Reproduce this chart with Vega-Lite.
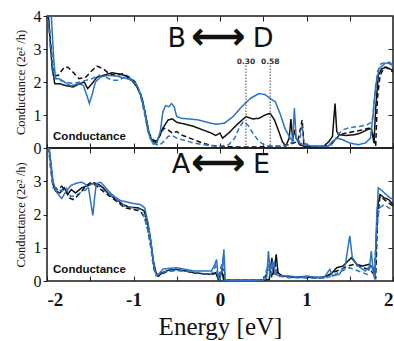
{
"$schema": "https://vega.github.io/schema/vega-lite/v6.json",
"padding": {"left": 13, "top": 7, "right": 0, "bottom": 0},
"background": "white",
"spacing": 0,
"bounds": "flush",
"config": {
  "view": {"stroke": "#1a1a1a", "strokeWidth": 1.5},
  "axis": {"labelFont": "Liberation Serif", "titleFont": "Liberation Serif", "labelColor": "#111", "titleColor": "#111", "tickColor": "#222", "domain": false, "grid": false}
},
"datasets": {
"top": [
{"E":-2.0,"G":4.6,"s":"bs"},{"E":-1.97,"G":3.5,"s":"bs"},{"E":-1.94,"G":2.4,"s":"bs"},{"E":-1.91,"G":1.95,"s":"bs"},{"E":-1.85,"G":1.95,"s":"bs"},{"E":-1.8,"G":1.9,"s":"bs"},{"E":-1.7,"G":1.85,"s":"bs"},{"E":-1.62,"G":1.95,"s":"bs"},{"E":-1.57,"G":2.0,"s":"bs"},{"E":-1.53,"G":1.8,"s":"bs"},{"E":-1.48,"G":1.95,"s":"bs"},{"E":-1.42,"G":2.15,"s":"bs"},{"E":-1.35,"G":2.2,"s":"bs"},{"E":-1.25,"G":2.28,"s":"bs"},{"E":-1.18,"G":2.25,"s":"bs"},{"E":-1.1,"G":2.2,"s":"bs"},{"E":-1.02,"G":2.05,"s":"bs"},{"E":-0.96,"G":1.85,"s":"bs"},{"E":-0.9,"G":1.5,"s":"bs"},{"E":-0.86,"G":1.0,"s":"bs"},{"E":-0.82,"G":0.45,"s":"bs"},{"E":-0.79,"G":0.25,"s":"bs"},{"E":-0.75,"G":0.15,"s":"bs"},{"E":-0.71,"G":0.3,"s":"bs"},{"E":-0.66,"G":0.6,"s":"bs"},{"E":-0.6,"G":0.85,"s":"bs"},{"E":-0.55,"G":0.88,"s":"bs"},{"E":-0.5,"G":0.78,"s":"bs"},{"E":-0.4,"G":0.72,"s":"bs"},{"E":-0.3,"G":0.65,"s":"bs"},{"E":-0.2,"G":0.55,"s":"bs"},{"E":-0.1,"G":0.45,"s":"bs"},{"E":-0.05,"G":0.38,"s":"bs"},{"E":0.0,"G":0.45,"s":"bs"},{"E":0.03,"G":0.3,"s":"bs"},{"E":0.1,"G":0.45,"s":"bs"},{"E":0.2,"G":0.72,"s":"bs"},{"E":0.3,"G":0.95,"s":"bs"},{"E":0.38,"G":0.88,"s":"bs"},{"E":0.45,"G":0.9,"s":"bs"},{"E":0.52,"G":1.0,"s":"bs"},{"E":0.58,"G":1.05,"s":"bs"},{"E":0.63,"G":0.85,"s":"bs"},{"E":0.68,"G":0.5,"s":"bs"},{"E":0.72,"G":0.2,"s":"bs"},{"E":0.76,"G":0.05,"s":"bs"},{"E":0.8,"G":0.3,"s":"bs"},{"E":0.82,"G":0.88,"s":"bs"},{"E":0.84,"G":0.25,"s":"bs"},{"E":0.86,"G":0.55,"s":"bs"},{"E":0.88,"G":0.3,"s":"bs"},{"E":0.92,"G":0.1,"s":"bs"},{"E":0.98,"G":0.05,"s":"bs"},{"E":1.1,"G":0.03,"s":"bs"},{"E":1.2,"G":0.05,"s":"bs"},{"E":1.26,"G":0.2,"s":"bs"},{"E":1.3,"G":0.35,"s":"bs"},{"E":1.33,"G":1.35,"s":"bs"},{"E":1.35,"G":0.5,"s":"bs"},{"E":1.38,"G":0.4,"s":"bs"},{"E":1.45,"G":0.38,"s":"bs"},{"E":1.55,"G":0.4,"s":"bs"},{"E":1.62,"G":0.45,"s":"bs"},{"E":1.7,"G":0.55,"s":"bs"},{"E":1.75,"G":0.6,"s":"bs"},{"E":1.78,"G":0.15,"s":"bs"},{"E":1.8,"G":1.2,"s":"bs"},{"E":1.83,"G":2.2,"s":"bs"},{"E":1.87,"G":2.4,"s":"bs"},{"E":1.92,"G":2.45,"s":"bs"},{"E":2.0,"G":2.35,"s":"bs"},

{"E":-2.0,"G":4.6,"s":"bd"},{"E":-1.96,"G":3.2,"s":"bd"},{"E":-1.92,"G":2.2,"s":"bd"},{"E":-1.87,"G":2.2,"s":"bd"},{"E":-1.8,"G":2.45,"s":"bd"},{"E":-1.76,"G":2.45,"s":"bd"},{"E":-1.7,"G":2.3,"s":"bd"},{"E":-1.63,"G":2.1,"s":"bd"},{"E":-1.55,"G":2.15,"s":"bd"},{"E":-1.48,"G":2.35,"s":"bd"},{"E":-1.42,"G":2.48,"s":"bd"},{"E":-1.35,"G":2.4,"s":"bd"},{"E":-1.28,"G":2.25,"s":"bd"},{"E":-1.2,"G":2.2,"s":"bd"},{"E":-1.12,"G":2.25,"s":"bd"},{"E":-1.05,"G":2.15,"s":"bd"},{"E":-0.98,"G":2.0,"s":"bd"},{"E":-0.92,"G":1.65,"s":"bd"},{"E":-0.87,"G":1.1,"s":"bd"},{"E":-0.83,"G":0.5,"s":"bd"},{"E":-0.79,"G":0.3,"s":"bd"},{"E":-0.75,"G":0.2,"s":"bd"},{"E":-0.7,"G":0.35,"s":"bd"},{"E":-0.65,"G":0.6,"s":"bd"},{"E":-0.6,"G":0.55,"s":"bd"},{"E":-0.55,"G":0.45,"s":"bd"},{"E":-0.5,"G":0.5,"s":"bd"},{"E":-0.45,"G":0.4,"s":"bd"},{"E":-0.35,"G":0.3,"s":"bd"},{"E":-0.2,"G":0.15,"s":"bd"},{"E":-0.1,"G":0.08,"s":"bd"},{"E":0.0,"G":0.05,"s":"bd"},{"E":0.2,"G":0.03,"s":"bd"},{"E":0.4,"G":0.03,"s":"bd"},{"E":0.6,"G":0.05,"s":"bd"},{"E":0.7,"G":0.05,"s":"bd"},{"E":0.8,"G":0.1,"s":"bd"},{"E":0.9,"G":0.2,"s":"bd"},{"E":0.95,"G":0.85,"s":"bd"},{"E":0.97,"G":0.1,"s":"bd"},{"E":1.05,"G":0.05,"s":"bd"},{"E":1.2,"G":0.05,"s":"bd"},{"E":1.3,"G":0.15,"s":"bd"},{"E":1.38,"G":0.4,"s":"bd"},{"E":1.45,"G":0.45,"s":"bd"},{"E":1.55,"G":0.5,"s":"bd"},{"E":1.65,"G":0.55,"s":"bd"},{"E":1.72,"G":0.6,"s":"bd"},{"E":1.77,"G":0.4,"s":"bd"},{"E":1.8,"G":0.05,"s":"bd"},{"E":1.82,"G":1.5,"s":"bd"},{"E":1.85,"G":2.2,"s":"bd"},{"E":1.9,"G":2.45,"s":"bd"},{"E":1.95,"G":2.4,"s":"bd"},{"E":2.0,"G":2.3,"s":"bd"},

{"E":-2.0,"G":4.6,"s":"ud"},{"E":-1.96,"G":3.0,"s":"ud"},{"E":-1.92,"G":2.15,"s":"ud"},{"E":-1.85,"G":2.05,"s":"ud"},{"E":-1.78,"G":2.0,"s":"ud"},{"E":-1.7,"G":1.95,"s":"ud"},{"E":-1.62,"G":2.0,"s":"ud"},{"E":-1.55,"G":2.05,"s":"ud"},{"E":-1.48,"G":2.1,"s":"ud"},{"E":-1.4,"G":2.2,"s":"ud"},{"E":-1.32,"G":2.15,"s":"ud"},{"E":-1.25,"G":2.05,"s":"ud"},{"E":-1.18,"G":2.05,"s":"ud"},{"E":-1.1,"G":2.15,"s":"ud"},{"E":-1.03,"G":2.1,"s":"ud"},{"E":-0.97,"G":1.95,"s":"ud"},{"E":-0.92,"G":1.6,"s":"ud"},{"E":-0.87,"G":1.0,"s":"ud"},{"E":-0.83,"G":0.45,"s":"ud"},{"E":-0.79,"G":0.25,"s":"ud"},{"E":-0.75,"G":0.12,"s":"ud"},{"E":-0.7,"G":0.08,"s":"ud"},{"E":-0.65,"G":0.2,"s":"ud"},{"E":-0.6,"G":0.35,"s":"ud"},{"E":-0.55,"G":0.38,"s":"ud"},{"E":-0.5,"G":0.3,"s":"ud"},{"E":-0.4,"G":0.22,"s":"ud"},{"E":-0.3,"G":0.15,"s":"ud"},{"E":-0.2,"G":0.1,"s":"ud"},{"E":-0.1,"G":0.07,"s":"ud"},{"E":0.0,"G":0.05,"s":"ud"},{"E":0.1,"G":0.1,"s":"ud"},{"E":0.17,"G":0.3,"s":"ud"},{"E":0.22,"G":0.6,"s":"ud"},{"E":0.27,"G":0.8,"s":"ud"},{"E":0.32,"G":0.7,"s":"ud"},{"E":0.38,"G":0.45,"s":"ud"},{"E":0.45,"G":0.2,"s":"ud"},{"E":0.52,"G":0.08,"s":"ud"},{"E":0.6,"G":0.05,"s":"ud"},{"E":0.7,"G":0.05,"s":"ud"},{"E":0.8,"G":0.1,"s":"ud"},{"E":0.88,"G":0.3,"s":"ud"},{"E":0.92,"G":0.2,"s":"ud"},{"E":0.95,"G":0.7,"s":"ud"},{"E":0.97,"G":0.15,"s":"ud"},{"E":1.05,"G":0.05,"s":"ud"},{"E":1.2,"G":0.05,"s":"ud"},{"E":1.3,"G":0.1,"s":"ud"},{"E":1.36,"G":0.4,"s":"ud"},{"E":1.42,"G":0.55,"s":"ud"},{"E":1.5,"G":0.62,"s":"ud"},{"E":1.6,"G":0.65,"s":"ud"},{"E":1.7,"G":0.7,"s":"ud"},{"E":1.76,"G":0.8,"s":"ud"},{"E":1.79,"G":1.6,"s":"ud"},{"E":1.82,"G":2.3,"s":"ud"},{"E":1.86,"G":2.55,"s":"ud"},{"E":1.92,"G":2.6,"s":"ud"},{"E":2.0,"G":2.5,"s":"ud"},

{"E":-2.0,"G":5.0,"s":"us"},{"E":-1.95,"G":4.0,"s":"us"},{"E":-1.92,"G":2.6,"s":"us"},{"E":-1.9,"G":2.1,"s":"us"},{"E":-1.86,"G":2.1,"s":"us"},{"E":-1.8,"G":2.0,"s":"us"},{"E":-1.72,"G":1.88,"s":"us"},{"E":-1.64,"G":1.95,"s":"us"},{"E":-1.58,"G":1.9,"s":"us"},{"E":-1.54,"G":1.6,"s":"us"},{"E":-1.51,"G":1.35,"s":"us"},{"E":-1.48,"G":1.6,"s":"us"},{"E":-1.44,"G":2.0,"s":"us"},{"E":-1.38,"G":2.15,"s":"us"},{"E":-1.3,"G":2.2,"s":"us"},{"E":-1.2,"G":2.18,"s":"us"},{"E":-1.1,"G":2.12,"s":"us"},{"E":-1.02,"G":2.05,"s":"us"},{"E":-0.96,"G":1.9,"s":"us"},{"E":-0.92,"G":1.65,"s":"us"},{"E":-0.88,"G":1.25,"s":"us"},{"E":-0.84,"G":0.7,"s":"us"},{"E":-0.81,"G":0.3,"s":"us"},{"E":-0.77,"G":0.12,"s":"us"},{"E":-0.73,"G":0.15,"s":"us"},{"E":-0.69,"G":0.5,"s":"us"},{"E":-0.66,"G":1.1,"s":"us"},{"E":-0.63,"G":1.28,"s":"us"},{"E":-0.59,"G":1.25,"s":"us"},{"E":-0.56,"G":1.35,"s":"us"},{"E":-0.53,"G":1.25,"s":"us"},{"E":-0.5,"G":0.95,"s":"us"},{"E":-0.45,"G":0.9,"s":"us"},{"E":-0.35,"G":0.88,"s":"us"},{"E":-0.25,"G":0.85,"s":"us"},{"E":-0.15,"G":0.78,"s":"us"},{"E":-0.05,"G":0.72,"s":"us"},{"E":0.05,"G":0.75,"s":"us"},{"E":0.15,"G":0.95,"s":"us"},{"E":0.25,"G":1.25,"s":"us"},{"E":0.35,"G":1.5,"s":"us"},{"E":0.45,"G":1.65,"s":"us"},{"E":0.52,"G":1.62,"s":"us"},{"E":0.58,"G":1.5,"s":"us"},{"E":0.64,"G":1.4,"s":"us"},{"E":0.7,"G":1.0,"s":"us"},{"E":0.75,"G":0.6,"s":"us"},{"E":0.8,"G":0.35,"s":"us"},{"E":0.84,"G":0.2,"s":"us"},{"E":0.86,"G":1.2,"s":"us"},{"E":0.88,"G":0.3,"s":"us"},{"E":0.92,"G":0.15,"s":"us"},{"E":1.0,"G":0.08,"s":"us"},{"E":1.1,"G":0.05,"s":"us"},{"E":1.25,"G":0.05,"s":"us"},{"E":1.3,"G":0.2,"s":"us"},{"E":1.35,"G":0.3,"s":"us"},{"E":1.42,"G":0.25,"s":"us"},{"E":1.5,"G":0.15,"s":"us"},{"E":1.6,"G":0.1,"s":"us"},{"E":1.68,"G":0.15,"s":"us"},{"E":1.74,"G":0.3,"s":"us"},{"E":1.77,"G":1.0,"s":"us"},{"E":1.8,"G":1.9,"s":"us"},{"E":1.84,"G":2.4,"s":"us"},{"E":1.9,"G":2.55,"s":"us"},{"E":1.96,"G":2.6,"s":"us"},{"E":2.0,"G":2.5,"s":"us"}
],
"bot": [
{"E":-2.0,"G":4.5,"s":"bs"},{"E":-1.96,"G":3.6,"s":"bs"},{"E":-1.93,"G":2.9,"s":"bs"},{"E":-1.9,"G":2.7,"s":"bs"},{"E":-1.85,"G":2.65,"s":"bs"},{"E":-1.8,"G":2.8,"s":"bs"},{"E":-1.76,"G":2.6,"s":"bs"},{"E":-1.72,"G":2.75,"s":"bs"},{"E":-1.67,"G":2.65,"s":"bs"},{"E":-1.6,"G":2.8,"s":"bs"},{"E":-1.55,"G":2.85,"s":"bs"},{"E":-1.5,"G":2.9,"s":"bs"},{"E":-1.45,"G":2.95,"s":"bs"},{"E":-1.4,"G":2.9,"s":"bs"},{"E":-1.35,"G":2.8,"s":"bs"},{"E":-1.28,"G":2.6,"s":"bs"},{"E":-1.2,"G":2.45,"s":"bs"},{"E":-1.12,"G":2.3,"s":"bs"},{"E":-1.05,"G":2.22,"s":"bs"},{"E":-0.95,"G":2.2,"s":"bs"},{"E":-0.88,"G":2.12,"s":"bs"},{"E":-0.84,"G":1.8,"s":"bs"},{"E":-0.8,"G":1.2,"s":"bs"},{"E":-0.77,"G":0.6,"s":"bs"},{"E":-0.74,"G":0.25,"s":"bs"},{"E":-0.71,"G":0.15,"s":"bs"},{"E":-0.67,"G":0.25,"s":"bs"},{"E":-0.6,"G":0.32,"s":"bs"},{"E":-0.5,"G":0.35,"s":"bs"},{"E":-0.4,"G":0.3,"s":"bs"},{"E":-0.3,"G":0.25,"s":"bs"},{"E":-0.2,"G":0.22,"s":"bs"},{"E":-0.1,"G":0.2,"s":"bs"},{"E":-0.05,"G":0.25,"s":"bs"},{"E":-0.02,"G":0.05,"s":"bs"},{"E":0.02,"G":0.3,"s":"bs"},{"E":0.04,"G":0.05,"s":"bs"},{"E":0.1,"G":0.02,"s":"bs"},{"E":0.3,"G":0.02,"s":"bs"},{"E":0.5,"G":0.02,"s":"bs"},{"E":0.57,"G":0.05,"s":"bs"},{"E":0.6,"G":0.7,"s":"bs"},{"E":0.62,"G":0.2,"s":"bs"},{"E":0.65,"G":0.8,"s":"bs"},{"E":0.67,"G":0.25,"s":"bs"},{"E":0.72,"G":0.15,"s":"bs"},{"E":0.85,"G":0.12,"s":"bs"},{"E":1.0,"G":0.12,"s":"bs"},{"E":1.1,"G":0.1,"s":"bs"},{"E":1.2,"G":0.12,"s":"bs"},{"E":1.28,"G":0.2,"s":"bs"},{"E":1.35,"G":0.4,"s":"bs"},{"E":1.42,"G":0.45,"s":"bs"},{"E":1.48,"G":0.6,"s":"bs"},{"E":1.52,"G":0.7,"s":"bs"},{"E":1.58,"G":0.5,"s":"bs"},{"E":1.65,"G":0.45,"s":"bs"},{"E":1.72,"G":0.5,"s":"bs"},{"E":1.77,"G":0.4,"s":"bs"},{"E":1.79,"G":0.1,"s":"bs"},{"E":1.82,"G":2.2,"s":"bs"},{"E":1.85,"G":2.6,"s":"bs"},{"E":1.9,"G":2.5,"s":"bs"},{"E":1.95,"G":2.45,"s":"bs"},{"E":2.0,"G":2.3,"s":"bs"},

{"E":-2.0,"G":4.5,"s":"bd"},{"E":-1.96,"G":3.5,"s":"bd"},{"E":-1.93,"G":2.85,"s":"bd"},{"E":-1.88,"G":2.75,"s":"bd"},{"E":-1.83,"G":2.85,"s":"bd"},{"E":-1.78,"G":2.7,"s":"bd"},{"E":-1.74,"G":2.5,"s":"bd"},{"E":-1.7,"G":2.45,"s":"bd"},{"E":-1.65,"G":2.55,"s":"bd"},{"E":-1.6,"G":2.7,"s":"bd"},{"E":-1.55,"G":2.85,"s":"bd"},{"E":-1.5,"G":2.95,"s":"bd"},{"E":-1.45,"G":2.9,"s":"bd"},{"E":-1.4,"G":2.8,"s":"bd"},{"E":-1.33,"G":2.65,"s":"bd"},{"E":-1.25,"G":2.5,"s":"bd"},{"E":-1.17,"G":2.35,"s":"bd"},{"E":-1.1,"G":2.2,"s":"bd"},{"E":-1.0,"G":2.15,"s":"bd"},{"E":-0.92,"G":2.1,"s":"bd"},{"E":-0.87,"G":1.9,"s":"bd"},{"E":-0.83,"G":1.5,"s":"bd"},{"E":-0.79,"G":0.9,"s":"bd"},{"E":-0.76,"G":0.35,"s":"bd"},{"E":-0.72,"G":0.15,"s":"bd"},{"E":-0.68,"G":0.2,"s":"bd"},{"E":-0.6,"G":0.3,"s":"bd"},{"E":-0.5,"G":0.32,"s":"bd"},{"E":-0.4,"G":0.3,"s":"bd"},{"E":-0.3,"G":0.25,"s":"bd"},{"E":-0.2,"G":0.22,"s":"bd"},{"E":-0.1,"G":0.2,"s":"bd"},{"E":-0.04,"G":0.22,"s":"bd"},{"E":-0.01,"G":0.05,"s":"bd"},{"E":0.03,"G":0.4,"s":"bd"},{"E":0.05,"G":0.03,"s":"bd"},{"E":0.2,"G":0.02,"s":"bd"},{"E":0.5,"G":0.02,"s":"bd"},{"E":0.58,"G":0.4,"s":"bd"},{"E":0.6,"G":0.1,"s":"bd"},{"E":0.64,"G":0.5,"s":"bd"},{"E":0.68,"G":0.15,"s":"bd"},{"E":0.8,"G":0.12,"s":"bd"},{"E":1.0,"G":0.1,"s":"bd"},{"E":1.2,"G":0.1,"s":"bd"},{"E":1.3,"G":0.25,"s":"bd"},{"E":1.4,"G":0.35,"s":"bd"},{"E":1.48,"G":0.45,"s":"bd"},{"E":1.55,"G":0.5,"s":"bd"},{"E":1.65,"G":0.4,"s":"bd"},{"E":1.73,"G":0.35,"s":"bd"},{"E":1.78,"G":0.2,"s":"bd"},{"E":1.8,"G":0.05,"s":"bd"},{"E":1.82,"G":1.8,"s":"bd"},{"E":1.85,"G":2.55,"s":"bd"},{"E":1.9,"G":2.45,"s":"bd"},{"E":1.95,"G":2.35,"s":"bd"},{"E":2.0,"G":2.25,"s":"bd"},

{"E":-2.0,"G":4.5,"s":"ud"},{"E":-1.96,"G":3.4,"s":"ud"},{"E":-1.93,"G":2.8,"s":"ud"},{"E":-1.88,"G":2.8,"s":"ud"},{"E":-1.83,"G":2.7,"s":"ud"},{"E":-1.78,"G":2.8,"s":"ud"},{"E":-1.73,"G":2.55,"s":"ud"},{"E":-1.68,"G":2.55,"s":"ud"},{"E":-1.62,"G":2.65,"s":"ud"},{"E":-1.55,"G":2.75,"s":"ud"},{"E":-1.5,"G":2.9,"s":"ud"},{"E":-1.45,"G":2.95,"s":"ud"},{"E":-1.4,"G":2.85,"s":"ud"},{"E":-1.33,"G":2.7,"s":"ud"},{"E":-1.25,"G":2.55,"s":"ud"},{"E":-1.17,"G":2.4,"s":"ud"},{"E":-1.1,"G":2.25,"s":"ud"},{"E":-1.0,"G":2.2,"s":"ud"},{"E":-0.92,"G":2.15,"s":"ud"},{"E":-0.88,"G":1.95,"s":"ud"},{"E":-0.84,"G":1.6,"s":"ud"},{"E":-0.8,"G":1.0,"s":"ud"},{"E":-0.77,"G":0.4,"s":"ud"},{"E":-0.74,"G":0.15,"s":"ud"},{"E":-0.7,"G":0.2,"s":"ud"},{"E":-0.62,"G":0.3,"s":"ud"},{"E":-0.5,"G":0.33,"s":"ud"},{"E":-0.4,"G":0.3,"s":"ud"},{"E":-0.3,"G":0.26,"s":"ud"},{"E":-0.2,"G":0.22,"s":"ud"},{"E":-0.1,"G":0.2,"s":"ud"},{"E":-0.05,"G":0.45,"s":"ud"},{"E":-0.02,"G":0.1,"s":"ud"},{"E":0.04,"G":0.7,"s":"ud"},{"E":0.06,"G":0.03,"s":"ud"},{"E":0.2,"G":0.02,"s":"ud"},{"E":0.5,"G":0.02,"s":"ud"},{"E":0.56,"G":0.5,"s":"ud"},{"E":0.58,"G":0.1,"s":"ud"},{"E":0.62,"G":0.6,"s":"ud"},{"E":0.66,"G":0.15,"s":"ud"},{"E":0.8,"G":0.1,"s":"ud"},{"E":1.0,"G":0.1,"s":"ud"},{"E":1.2,"G":0.08,"s":"ud"},{"E":1.3,"G":0.15,"s":"ud"},{"E":1.4,"G":0.3,"s":"ud"},{"E":1.5,"G":0.4,"s":"ud"},{"E":1.6,"G":0.3,"s":"ud"},{"E":1.7,"G":0.2,"s":"ud"},{"E":1.75,"G":0.5,"s":"ud"},{"E":1.78,"G":0.15,"s":"ud"},{"E":1.81,"G":1.5,"s":"ud"},{"E":1.84,"G":2.2,"s":"ud"},{"E":1.9,"G":2.3,"s":"ud"},{"E":1.95,"G":2.2,"s":"ud"},{"E":2.0,"G":2.15,"s":"ud"},

{"E":-2.0,"G":4.6,"s":"us"},{"E":-1.97,"G":3.9,"s":"us"},{"E":-1.93,"G":3.0,"s":"us"},{"E":-1.89,"G":2.67,"s":"us"},{"E":-1.83,"G":2.48,"s":"us"},{"E":-1.78,"G":2.7,"s":"us"},{"E":-1.72,"G":2.88,"s":"us"},{"E":-1.65,"G":2.95,"s":"us"},{"E":-1.6,"G":2.97,"s":"us"},{"E":-1.55,"G":2.9,"s":"us"},{"E":-1.52,"G":2.8,"s":"us"},{"E":-1.49,"G":2.3,"s":"us"},{"E":-1.47,"G":1.97,"s":"us"},{"E":-1.45,"G":2.5,"s":"us"},{"E":-1.43,"G":2.93,"s":"us"},{"E":-1.38,"G":2.97,"s":"us"},{"E":-1.32,"G":2.8,"s":"us"},{"E":-1.26,"G":2.63,"s":"us"},{"E":-1.2,"G":2.5,"s":"us"},{"E":-1.15,"G":2.42,"s":"us"},{"E":-1.05,"G":2.36,"s":"us"},{"E":-1.0,"G":2.33,"s":"us"},{"E":-0.92,"G":2.3,"s":"us"},{"E":-0.87,"G":2.2,"s":"us"},{"E":-0.83,"G":1.72,"s":"us"},{"E":-0.79,"G":1.0,"s":"us"},{"E":-0.76,"G":0.4,"s":"us"},{"E":-0.74,"G":0.2,"s":"us"},{"E":-0.71,"G":0.2,"s":"us"},{"E":-0.66,"G":0.36,"s":"us"},{"E":-0.58,"G":0.38,"s":"us"},{"E":-0.5,"G":0.4,"s":"us"},{"E":-0.4,"G":0.35,"s":"us"},{"E":-0.3,"G":0.3,"s":"us"},{"E":-0.2,"G":0.3,"s":"us"},{"E":-0.1,"G":0.3,"s":"us"},{"E":-0.06,"G":0.5,"s":"us"},{"E":-0.04,"G":0.65,"s":"us"},{"E":-0.02,"G":0.1,"s":"us"},{"E":0.0,"G":0.05,"s":"us"},{"E":0.03,"G":0.5,"s":"us"},{"E":0.045,"G":0.95,"s":"us"},{"E":0.06,"G":0.05,"s":"us"},{"E":0.1,"G":0.02,"s":"us"},{"E":0.3,"G":0.02,"s":"us"},{"E":0.5,"G":0.02,"s":"us"},{"E":0.54,"G":0.1,"s":"us"},{"E":0.56,"G":0.9,"s":"us"},{"E":0.58,"G":0.3,"s":"us"},{"E":0.61,"G":0.6,"s":"us"},{"E":0.64,"G":0.2,"s":"us"},{"E":0.7,"G":0.15,"s":"us"},{"E":0.8,"G":0.15,"s":"us"},{"E":0.9,"G":0.12,"s":"us"},{"E":1.0,"G":0.15,"s":"us"},{"E":1.1,"G":0.12,"s":"us"},{"E":1.2,"G":0.1,"s":"us"},{"E":1.27,"G":0.35,"s":"us"},{"E":1.3,"G":0.15,"s":"us"},{"E":1.38,"G":0.2,"s":"us"},{"E":1.45,"G":0.5,"s":"us"},{"E":1.5,"G":1.36,"s":"us"},{"E":1.53,"G":0.7,"s":"us"},{"E":1.6,"G":0.45,"s":"us"},{"E":1.68,"G":0.3,"s":"us"},{"E":1.73,"G":0.45,"s":"us"},{"E":1.75,"G":0.9,"s":"us"},{"E":1.77,"G":0.3,"s":"us"},{"E":1.79,"G":0.05,"s":"us"},{"E":1.81,"G":1.8,"s":"us"},{"E":1.83,"G":2.8,"s":"us"},{"E":1.88,"G":2.7,"s":"us"},{"E":1.94,"G":2.55,"s":"us"},{"E":2.0,"G":2.45,"s":"us"}
],
"topLetters": [{"E":-0.5,"G":3.3,"t":"B"},{"E":0.5,"G":3.3,"t":"D"}],
"topArrow": [{"E":-0.02,"G":3.3,"t":"⟷"}],
"botLetters": [{"E":-0.45,"G":3.48,"t":"A"},{"E":0.48,"G":3.48,"t":"E"}],
"botArrow": [{"E":-0.02,"G":3.48,"t":"⟷"}],
"cond": [{"E":-1.93,"G":0.32,"t":"Conductance"}],
"marks": [{"E":0.30,"G0":0,"G1":2.5,"t":"0.30"},{"E":0.58,"G0":0,"G1":2.5,"t":"0.58"}]
},
"vconcat": [
{
 "width": 346, "height": 132,
 "layer": [
  {"data": {"name": "top"}, "mark": {"type": "line", "clip": true, "strokeWidth": 1.5},
   "encoding": {
    "x": {"field": "E", "type": "quantitative", "scale": {"domain": [-2, 2], "nice": false},
          "axis": {"orient": "bottom", "values": [-2,-1.5,-1,-0.5,0,0.5,1,1.5,2], "labels": false, "tickSize": -5, "title": null}},
    "y": {"field": "G", "type": "quantitative", "scale": {"domain": [0, 4], "nice": false},
          "axis": {"values": [0,1,2,3,4], "tickSize": 4, "labelFontSize": 16, "labelPadding": 2, "title": "Conductance (2e² /h)", "titleFontSize": 12.5, "titleFontWeight": "normal", "titlePadding": 6}},
    "color": {"field": "s", "type": "nominal", "scale": {"domain": ["bs","bd","us","ud"], "range": ["#111111","#111111","#2a73c5","#2a73c5"]}, "legend": null},
    "strokeDash": {"field": "s", "type": "nominal", "scale": {"domain": ["bs","bd","us","ud"], "range": [[1,0],[5,3],[1,0],[5,3]]}, "legend": null}
   }},
  {"data": {"name": "marks"}, "mark": {"type": "rule", "strokeDash": [1.5,1.5], "strokeWidth": 1, "color": "#444"},
   "encoding": {"x": {"field": "E", "type": "quantitative", "axis": null}, "y": {"field": "G0", "type": "quantitative", "axis": null}, "y2": {"field": "G1"}}},
  {"data": {"name": "marks"}, "mark": {"type": "text", "font": "DejaVu Sans", "fontSize": 7.5, "fontWeight": "bold", "color": "#333", "baseline": "bottom"},
   "encoding": {"x": {"field": "E", "type": "quantitative", "axis": null}, "y": {"field": "G1", "type": "quantitative", "axis": null}, "text": {"field": "t"}}},
  {"data": {"name": "cond"}, "mark": {"type": "text", "font": "Liberation Sans", "fontSize": 11.5, "fontWeight": "bold", "color": "#111", "align": "left", "baseline": "middle"},
   "encoding": {"x": {"field": "E", "type": "quantitative", "axis": null}, "y": {"field": "G", "type": "quantitative", "axis": null}, "text": {"field": "t"}}},
  {"data": {"name": "topArrow"}, "mark": {"type": "text", "font": "DejaVu Sans", "fontSize": 38, "fontWeight": "bold", "color": "#111", "baseline": "middle", "dy": -1},
   "encoding": {"x": {"field": "E", "type": "quantitative", "axis": null}, "y": {"field": "G", "type": "quantitative", "axis": null}, "text": {"field": "t"}}},
  {"data": {"name": "topLetters"}, "mark": {"type": "text", "font": "DejaVu Sans", "fontSize": 27, "color": "#111", "baseline": "middle"},
   "encoding": {
    "x": {"field": "E", "type": "quantitative", "axis": {"orient": "top", "values": [-1.5,-1,-0.5,0,0.5,1,1.5], "labels": false, "tickSize": -5, "title": null}},
    "y": {"field": "G", "type": "quantitative", "axis": {"orient": "right", "values": [1,2,3], "labels": false, "tickSize": -5, "title": null}},
    "text": {"field": "t"}}}
 ],
 "resolve": {"axis": {"x": "independent", "y": "independent"}}
},
{
 "width": 346, "height": 133,
 "layer": [
  {"data": {"name": "bot"}, "mark": {"type": "line", "clip": true, "strokeWidth": 1.5},
   "encoding": {
    "x": {"field": "E", "type": "quantitative", "scale": {"domain": [-2, 2], "nice": false},
          "axis": {"orient": "bottom", "values": [-2,-1.5,-1,-0.5,0,0.5,1,1.5,2], "labelExpr": "datum.value % 1 == 0 ? '' + datum.value : ''", "tickSize": -5, "labelPadding": 14, "labelFontSize": 19, "labelFontWeight": "bold", "title": "Energy [eV]", "titleFontSize": 25, "titleFontWeight": "normal", "titlePadding": 5}},
    "y": {"field": "G", "type": "quantitative", "scale": {"domain": [0, 4], "nice": false},
          "axis": {"values": [0,1,2,3], "tickSize": 4, "labelFontSize": 16, "labelPadding": 2, "title": "Conductance (2e² /h)", "titleFontSize": 12.5, "titleFontWeight": "normal", "titlePadding": 6}},
    "color": {"field": "s", "type": "nominal", "scale": {"domain": ["bs","bd","us","ud"], "range": ["#111111","#111111","#2a73c5","#2a73c5"]}, "legend": null},
    "strokeDash": {"field": "s", "type": "nominal", "scale": {"domain": ["bs","bd","us","ud"], "range": [[1,0],[5,3],[1,0],[5,3]]}, "legend": null}
   }},
  {"data": {"name": "cond"}, "mark": {"type": "text", "font": "Liberation Sans", "fontSize": 11.5, "fontWeight": "bold", "color": "#111", "align": "left", "baseline": "middle"},
   "encoding": {"x": {"field": "E", "type": "quantitative", "axis": null}, "y": {"field": "G", "type": "quantitative", "axis": null}, "text": {"field": "t"}}},
  {"data": {"name": "botArrow"}, "mark": {"type": "text", "font": "DejaVu Sans", "fontSize": 38, "fontWeight": "bold", "color": "#111", "baseline": "middle", "dy": -1},
   "encoding": {"x": {"field": "E", "type": "quantitative", "axis": null}, "y": {"field": "G", "type": "quantitative", "axis": null}, "text": {"field": "t"}}},
  {"data": {"name": "botLetters"}, "mark": {"type": "text", "font": "DejaVu Sans", "fontSize": 27, "color": "#111", "baseline": "middle"},
   "encoding": {
    "x": {"field": "E", "type": "quantitative", "axis": {"orient": "top", "values": [-1.5,-1,-0.5,0,0.5,1,1.5], "labels": false, "tickSize": -5, "title": null}},
    "y": {"field": "G", "type": "quantitative", "axis": {"orient": "right", "values": [1,2,3], "labels": false, "tickSize": -5, "title": null}},
    "text": {"field": "t"}}}
 ],
 "resolve": {"axis": {"x": "independent", "y": "independent"}}
}
]
}
